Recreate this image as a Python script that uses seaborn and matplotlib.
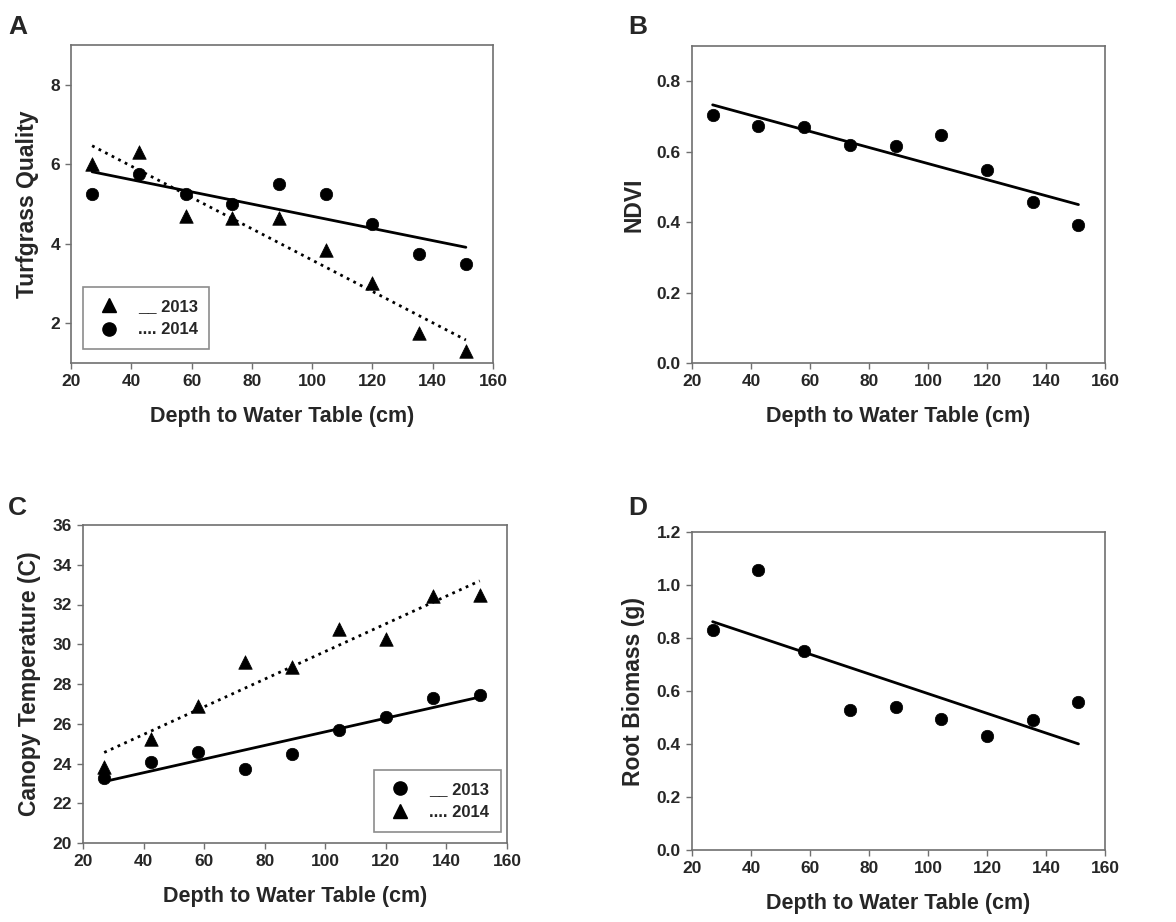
import numpy as np
import matplotlib
matplotlib.use("Agg")
import matplotlib.pyplot as plt
import pandas as pd
import seaborn as sns
from matplotlib.lines import Line2D

# depth to water table, same for all panels
depth = [27, 42.5, 58, 73.5, 89, 104.5, 120, 135.5, 151]

# A: turfgrass quality
quality_2013 = [6.0, 6.3, 4.7, 4.65, 4.65, 3.85, 3.0, 1.75, 1.3]
quality_2014 = [5.25, 5.75, 5.25, 5.0, 5.5, 5.25, 4.5, 3.75, 3.5]

# B: NDVI
ndvi = [0.705, 0.673, 0.67, 0.618, 0.615, 0.647, 0.547, 0.456, 0.391]

# C: canopy temperature
temp_2013 = [23.25, 24.1, 24.6, 23.7, 24.5, 25.7, 26.35, 27.3, 27.45]
temp_2014 = [23.8, 25.25, 26.9, 29.1, 28.85, 30.75, 30.25, 32.45, 32.5]

# D: root biomass
biomass = [0.83, 1.055, 0.75, 0.53, 0.54, 0.495, 0.432, 0.49, 0.557]

xlabel = "Depth to Water Table (cm)"
xticks = [20, 40, 60, 80, 100, 120, 140, 160]

sns.set_style("white")
plt.rcParams['font.family'] = ['Liberation Sans', 'DejaVu Sans']
plt.rcParams['font.weight'] = 'bold'
plt.rcParams['axes.labelweight'] = 'bold'

W, H = 1176, 922
fig = plt.figure(figsize=(W / 100, H / 100), dpi=100)


def px_axes(left, top, right, bottom):
    return fig.add_axes([left / W, 1 - bottom / H, (right - left) / W, (bottom - top) / H])


spine_col = "#707070"


def style(ax, ylim, yticks, ylabel, yfmt):
    ax.set_xlim(20, 160)
    ax.set_ylim(*ylim)
    ax.set_xticks(xticks)
    ax.set_yticks(yticks)
    ax.set_yticklabels([yfmt.format(v) for v in yticks])
    ax.set_xlabel(xlabel, fontsize=15.5, labelpad=12)
    ax.set_ylabel(ylabel, fontsize=16.5, labelpad=8)
    ax.tick_params(axis='both', direction='out', length=4, width=1, color=spine_col,
                   labelsize=12.5, pad=4, bottom=True, left=True)
    for s in ax.spines.values():
        s.set_color(spine_col)
        s.set_linewidth(1.2)


def fit(ax, x, y, ls):
    sns.regplot(x=x, y=y, ax=ax, scatter=False, ci=None, truncate=True,
                line_kws=dict(color='black', lw=2, ls=ls))


def pts(ax, x, y, marker):
    size = 95 if marker == '^' else 80
    sns.scatterplot(x=x, y=y, ax=ax, marker=marker, s=size, color='black',
                    edgecolor='black', linewidth=0.5, zorder=3)


def legend(ax, markers, labels, loc_box):
    handles = [Line2D([], [], ls='none', marker=m, color='black', markersize=9.5)
               for m in markers]
    leg = ax.legend(handles, labels, loc='lower left', bbox_to_anchor=loc_box,
                    fancybox=False, frameon=True, edgecolor=spine_col,
                    prop=dict(size=12, weight='bold'), handlelength=1.7,
                    handletextpad=0.9, borderpad=0.7, labelspacing=0.5,
                    borderaxespad=0)
    leg.get_frame().set_linewidth(1.2)


# A
axA = px_axes(71, 45, 493, 363)
pts(axA, depth, quality_2013, '^')
pts(axA, depth, quality_2014, 'o')
fit(axA, depth, quality_2014, '-')
fit(axA, depth, quality_2013, ':')
style(axA, (1, 9), [2, 4, 6, 8], "Turfgrass Quality", "{:.0f}")
legend(axA, ['^', 'o'], ["__ 2013", ".... 2014"], (0.028, 0.044))

# B
axB = px_axes(692, 46, 1105, 363)
pts(axB, depth, ndvi, 'o')
fit(axB, depth, ndvi, '-')
style(axB, (0, 0.9), [0.0, 0.2, 0.4, 0.6, 0.8], "NDVI", "{:.1f}")

# C
axC = px_axes(83, 525, 507, 843)
pts(axC, depth, temp_2013, 'o')
pts(axC, depth, temp_2014, '^')
fit(axC, depth, temp_2013, '-')
fit(axC, depth, temp_2014, ':')
style(axC, (20, 36), list(range(20, 37, 2)), "Canopy Temperature (C)", "{:.0f}")
legend(axC, ['o', '^'], ["__ 2013", ".... 2014"], (0.686, 0.035))

# D
axD = px_axes(692, 532, 1105, 850)
pts(axD, depth, biomass, 'o')
fit(axD, depth, biomass, '-')
style(axD, (0, 1.2), [0.0, 0.2, 0.4, 0.6, 0.8, 1.0, 1.2], "Root Biomass (g)", "{:.1f}")

# panel letters
for letter, (x, y) in zip("ABCD", [(8, 34), (628, 34), (8, 515), (628, 515)]):
    fig.text(x / W, 1 - y / H, letter, fontsize=19, fontweight='bold')

fig.savefig("out.png", dpi=100, facecolor='white')
